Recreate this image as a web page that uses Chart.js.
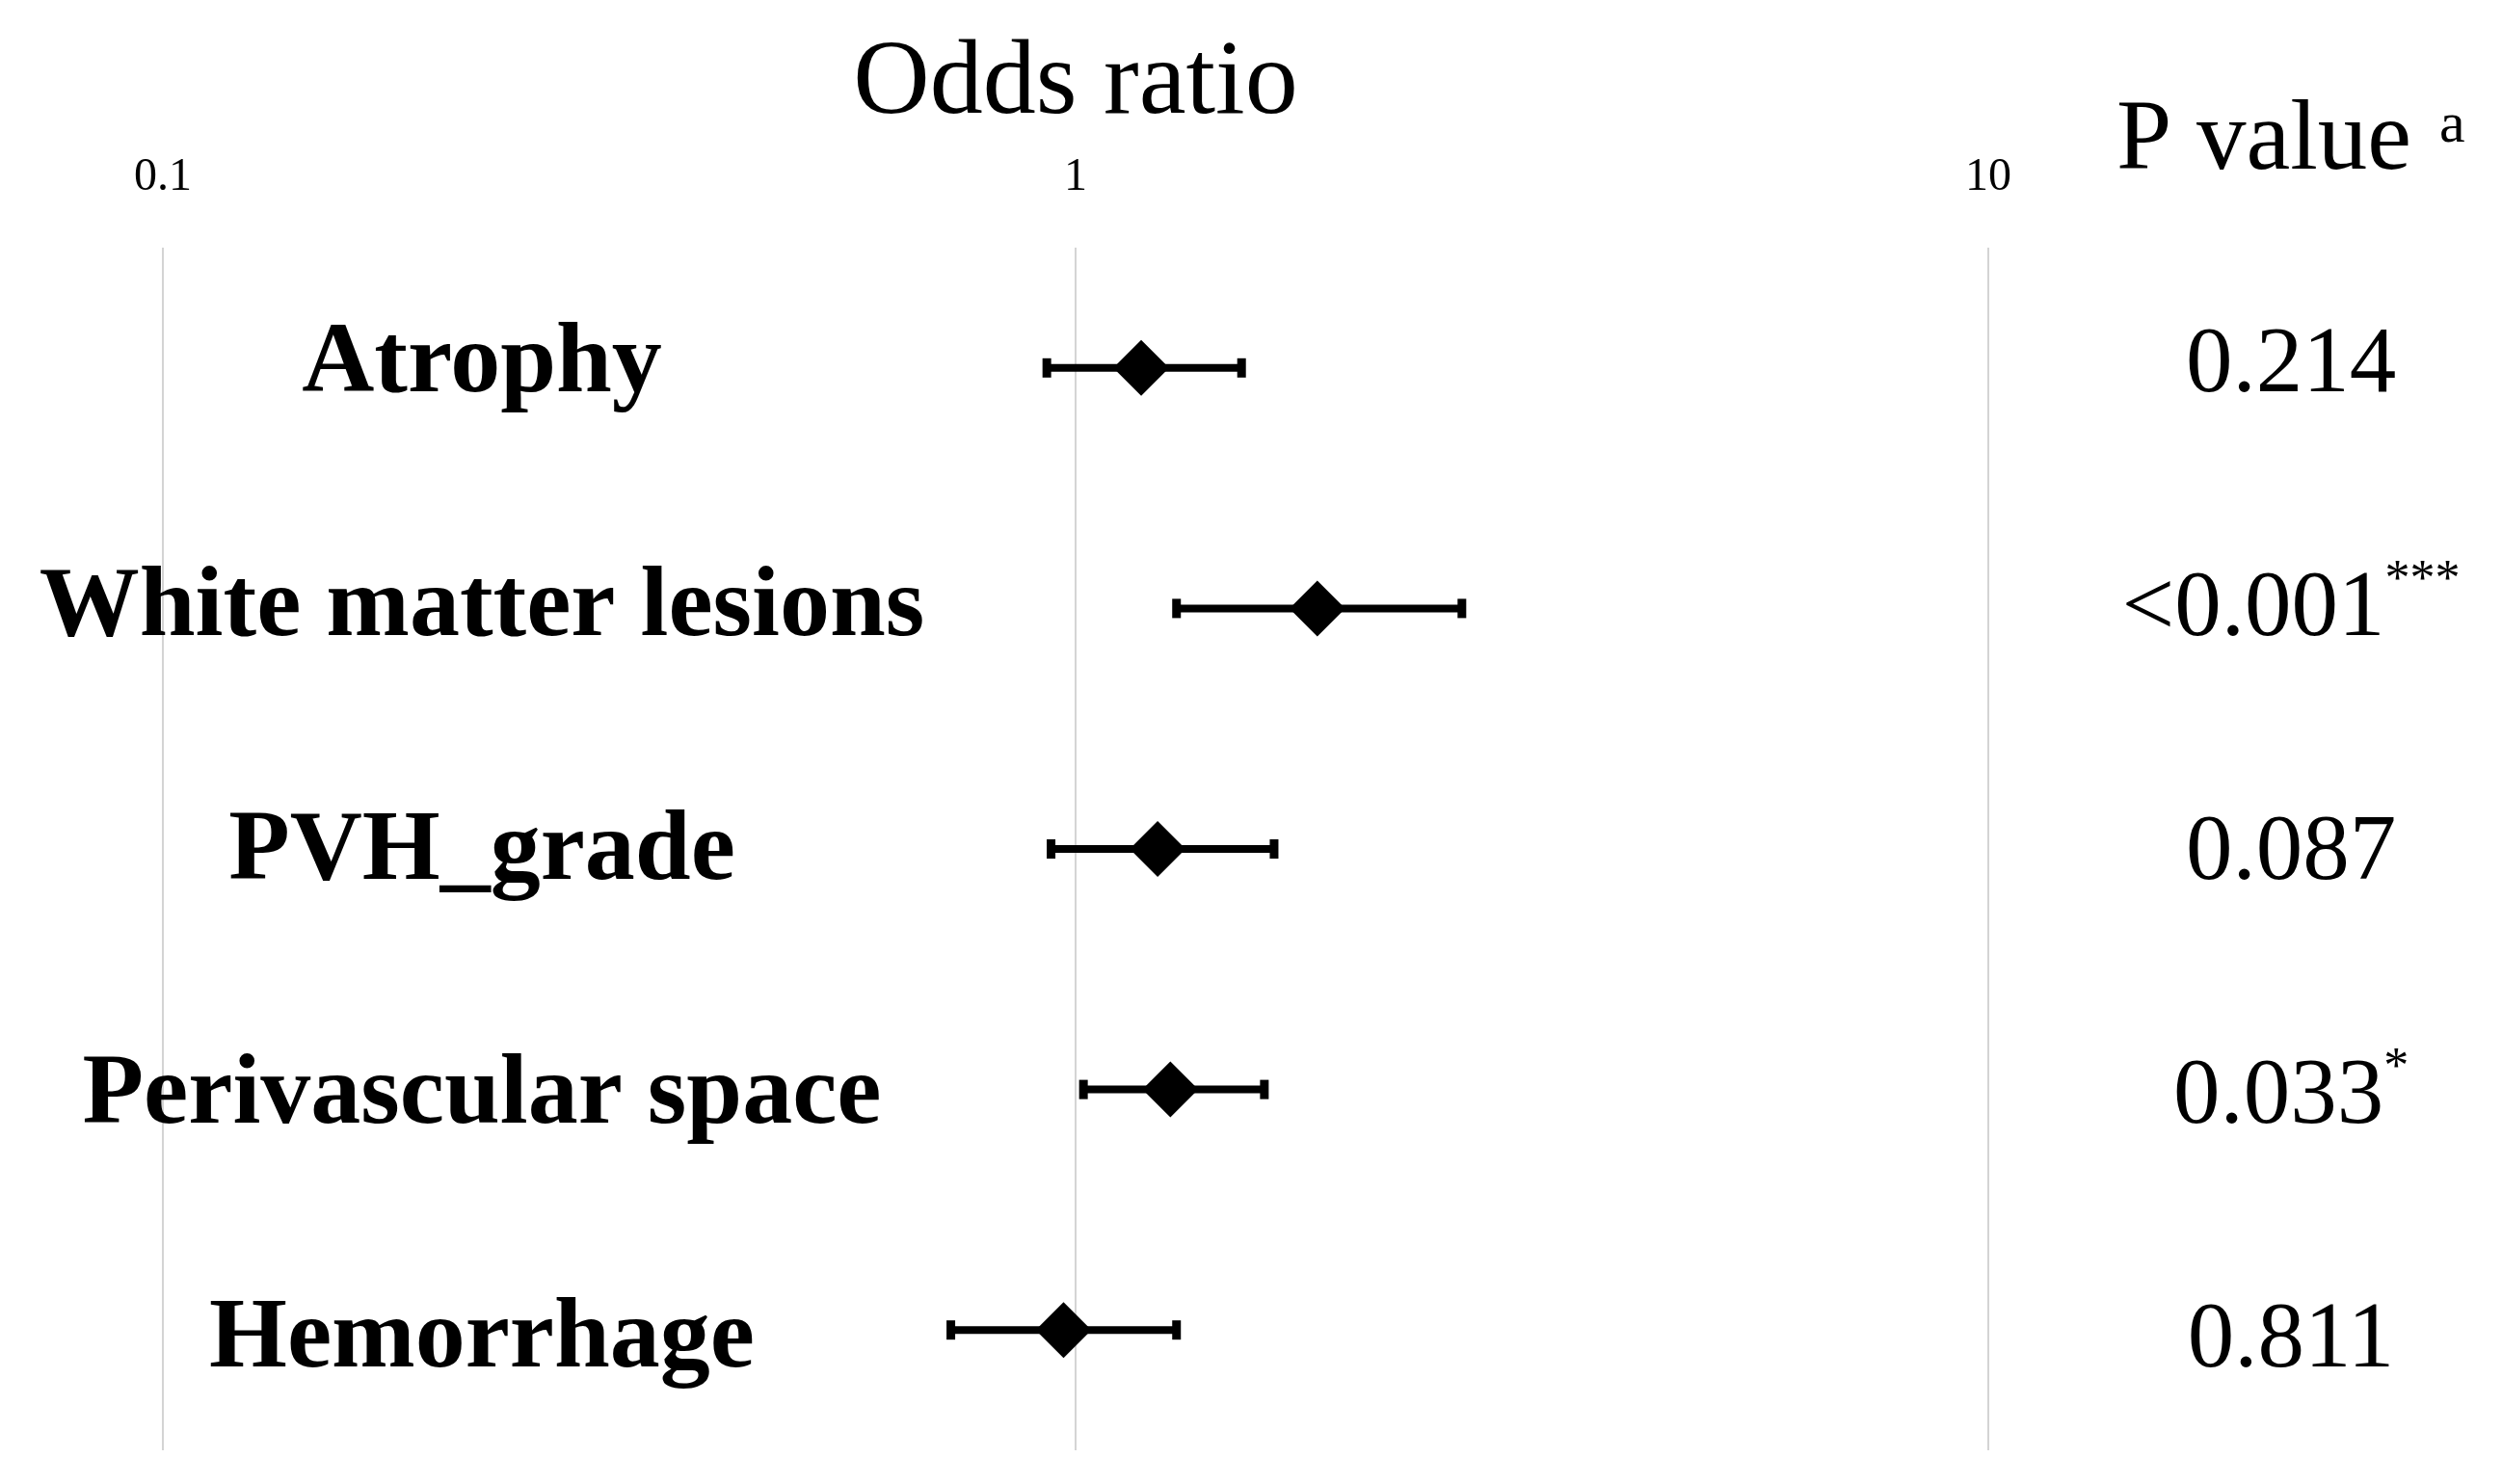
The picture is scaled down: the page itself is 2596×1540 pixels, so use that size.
<!DOCTYPE html>
<html lang="en">
<head>
    <meta charset="UTF-8" />
    <title>Odds ratio forest plot</title>
    <script src="https://cdn.jsdelivr.net/npm/chart.js"></script>
    <style>
        body {
            margin: 0;
            padding: 0;
            background: #fff;
        }

        .chart-box {
            width: 2596px;
            height: 1540px;
        }
    </style>
</head>
<body>
    <div class="chart-box">
        <canvas id="forestChart" width="2596" height="1540"></canvas>
    </div>

    <script>
        // values
        const categories = ['Atrophy', 'White matter lesions', 'PVH_grade', 'Perivascular space', 'Hemorrhage'];
        const oddsRatio = [1.18, 1.84, 1.23, 1.27, 0.97];
        const ciLower = [0.93, 1.29, 0.94, 1.02, 0.73];
        const ciUpper = [1.52, 2.65, 1.65, 1.61, 1.29];
        const pValues = ['0.214', '<0.001', '0.087', '0.033', '0.811'];
        const pStars = ['', '***', '', '*', ''];
        const xTicks = [0.1, 1, 10];
        const xTickLabels = ['0.1', '1', '10'];

        const serif = '"Liberation Serif", "DejaVu Serif", serif';

        // diamonds first so they are painted on top of the CI bars
        const datasets = [{
            label: 'Odds ratio',
            data: categories.map((c, i) => ({ x: oddsRatio[i], y: i })),
            pointStyle: 'rectRot',
            pointRadius: 29,
            pointBorderWidth: 0,
            backgroundColor: '#000',
            borderColor: '#000',
            showLine: false
        }];

        categories.forEach((c, i) => {
            datasets.push({
                label: c + ' CI',
                data: [{ x: ciLower[i], y: i }, { x: ciUpper[i], y: i }],
                showLine: true,
                borderColor: '#000',
                borderWidth: 8,
                pointStyle: 'line',
                rotation: 90,
                pointRadius: 10,
                pointBorderWidth: 9,
                pointBorderColor: '#000',
                pointBackgroundColor: '#000'
            });
        });

        const sideText = {
            id: 'sideText',
            afterDraw(chart) {
                const ctx = chart.ctx;
                const y = chart.scales.y;
                ctx.save();
                ctx.fillStyle = '#000';
                ctx.textBaseline = 'alphabetic';

                // row labels
                ctx.font = 'bold 104px ' + serif;
                ctx.textAlign = 'center';
                categories.forEach((c, i) => {
                    const yy = y.getPixelForValue(i) + 24 + i * 3.5;
                    ctx.fillText(c, 500, yy);
                });

                // p values with superscript stars
                ctx.textAlign = 'left';
                pValues.forEach((p, i) => {
                    const yy = y.getPixelForValue(i) + 24 + i * 3.5;
                    ctx.font = '97px ' + serif;
                    const w1 = ctx.measureText(p).width;
                    ctx.font = '52px ' + serif;
                    const w2 = pStars[i] ? ctx.measureText(pStars[i]).width : 0;
                    const x0 = 2377 - (w1 + w2) / 2;
                    ctx.font = '97px ' + serif;
                    ctx.fillText(p, x0, yy);
                    if (pStars[i]) {
                        ctx.font = '52px ' + serif;
                        ctx.fillText(pStars[i], x0 + w1, yy - 42);
                    }
                });

                // column header
                ctx.font = '103px ' + serif;
                ctx.fillText('P value', 2196, 175);
                ctx.font = '60px ' + serif;
                ctx.fillText('a', 2531, 147);
                ctx.restore();
            }
        };

        new Chart(document.getElementById('forestChart'), {
            type: 'scatter',
            data: { datasets: datasets },
            options: {
                responsive: false,
                animation: false,
                events: [],
                layout: {
                    padding: { left: 169, right: 533, top: 0, bottom: 35 }
                },
                plugins: {
                    legend: { display: false },
                    tooltip: { enabled: false }
                },
                scales: {
                    x: {
                        type: 'logarithmic',
                        position: 'top',
                        min: 0.1,
                        max: 10,
                        afterBuildTicks: (scale) => {
                            scale.ticks = xTicks.map(v => ({ value: v }));
                        },
                        afterFit: (scale) => {
                            scale.height = 257;
                        },
                        ticks: {
                            color: '#000',
                            padding: 44,
                            maxRotation: 0,
                            font: { family: serif, size: 48 },
                            callback: (v) => {
                                const k = xTicks.indexOf(v);
                                return k >= 0 ? xTickLabels[k] : '';
                            }
                        },
                        grid: {
                            color: '#d4d4d4',
                            lineWidth: 2,
                            drawTicks: false
                        },
                        border: { display: false },
                        title: {
                            display: true,
                            text: 'Odds ratio',
                            color: '#000',
                            font: { family: serif, size: 110 },
                            padding: { top: 22, bottom: 0 }
                        }
                    },
                    y: {
                        type: 'linear',
                        display: false,
                        reverse: true,
                        min: -0.5,
                        max: 4.5
                    }
                }
            },
            plugins: [sideText]
        });
    </script>
</body>
</html>
